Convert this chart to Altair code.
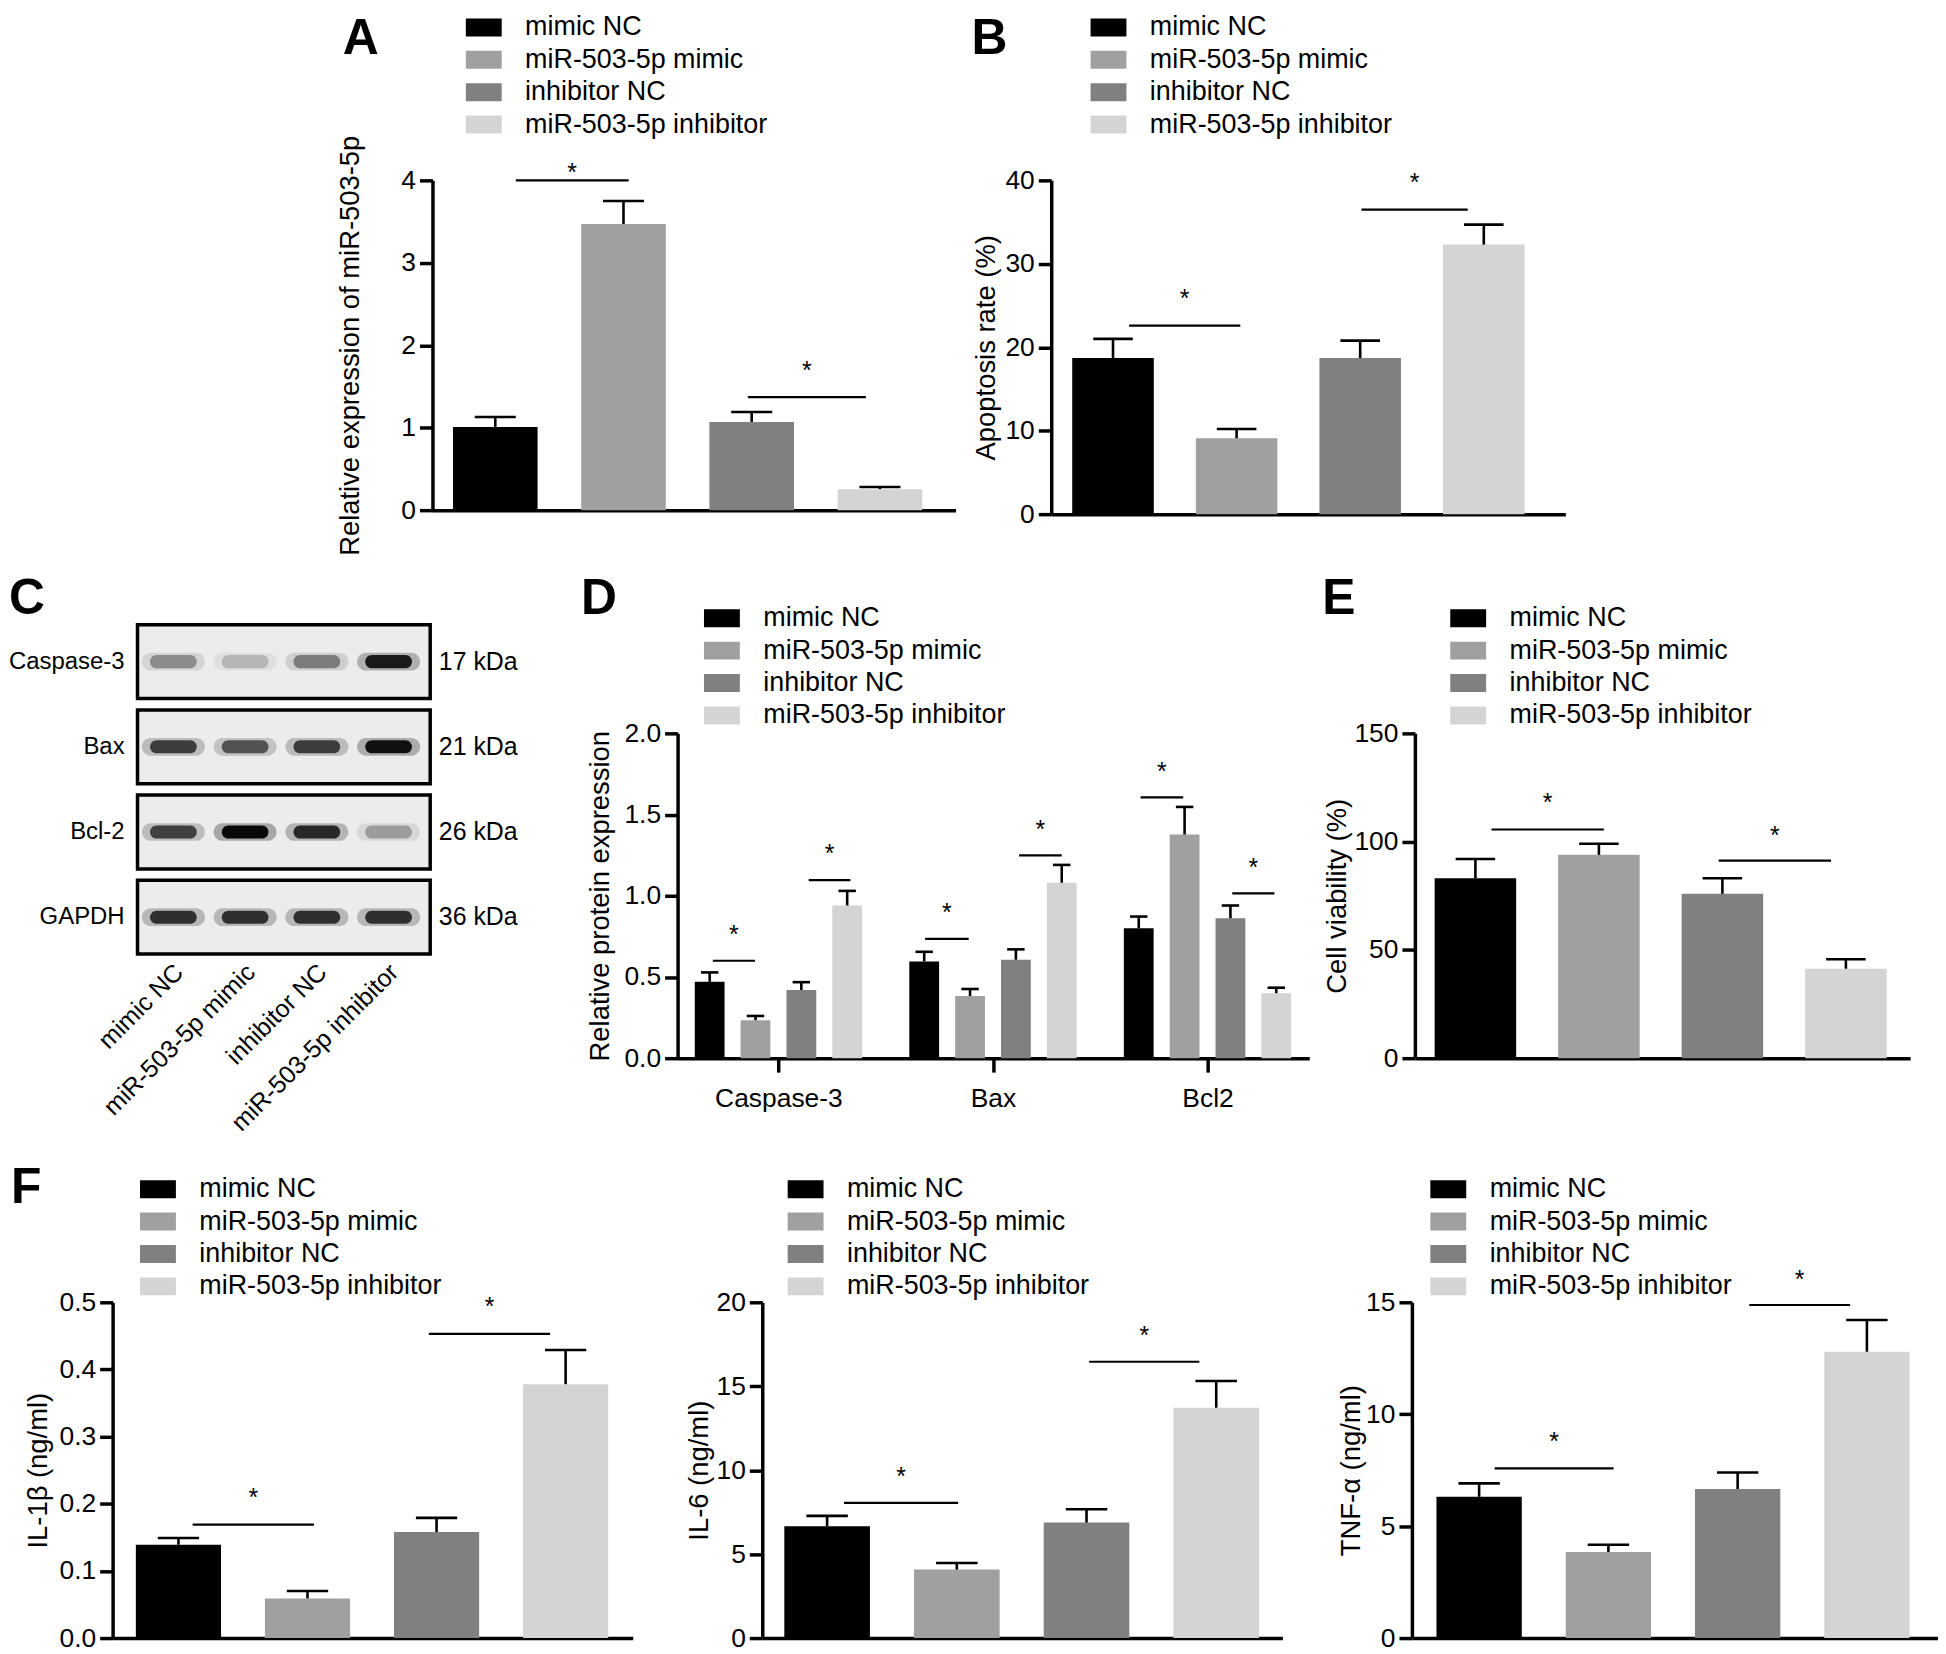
import altair as alt
import pandas as pd

FONT = "Liberation Sans"
GROUPS = ["mimic NC", "miR-503-5p mimic", "inhibitor NC", "miR-503-5p inhibitor"]
COLORS = ["#000000", "#a0a0a0", "#808080", "#d4d4d4"]

# ---------------- Panel A : relative expression of miR-503-5p
A_MEAN = [1.01, 3.47, 1.07, 0.255]
A_TOP = [1.13, 3.75, 1.19, 0.28]
A_SIG_FROM = [0.16, 1.97]
A_SIG_TO = [1.04, 2.89]
A_SIG_Y = [4.0, 1.37]
A_STAR_Y = [4.15, 1.745]
A_TICKS = [0, 1, 2, 3, 4]

# ---------------- Panel B : apoptosis rate
B_MEAN = [18.7, 9.1, 18.7, 32.3]
B_TOP = [21.0, 10.2, 20.8, 34.7]
B_SIG_FROM = [0.13, 2.01]
B_SIG_TO = [1.03, 2.87]
B_SIG_Y = [22.6, 36.5]
B_STAR_Y = [26.4, 40.3]
B_TICKS = [0, 10, 20, 30, 40]

# ---------------- Panel C : western blot
BLOT_PROTEINS = ["Caspase-3", "Bax", "Bcl-2", "GAPDH"]
BLOT_KDA = ["17 kDa", "21 kDa", "26 kDa", "36 kDa"]
BAND_INTENSITY = [
    [0.34, 0.18, 0.40, 0.85],
    [0.68, 0.58, 0.68, 0.90],
    [0.66, 0.95, 0.78, 0.28],
    [0.74, 0.74, 0.74, 0.74],
]

# ---------------- Panel D : relative protein expression
D_PROTEINS = ["Caspase-3", "Bax", "Bcl2"]
D_MEAN = [
    [0.47, 0.234, 0.42, 0.94],
    [0.596, 0.383, 0.606, 1.08],
    [0.80, 1.377, 0.862, 0.40],
]
D_TOP = [
    [0.528, 0.26, 0.468, 1.03],
    [0.655, 0.426, 0.67, 1.19],
    [0.872, 1.547, 0.94, 0.434],
]
D_SIG_FROM = [[0.07, 2.16], [0.02, 2.07], [0.04, 2.04]]
D_SIG_TO = [[0.99, 3.07], [0.97, 3.00], [0.97, 2.96]]
D_SIG_Y = [[0.60, 1.096], [0.734, 1.249], [1.606, 1.015]]
D_STAR_Y = [[0.787, 1.287], [0.926, 1.436], [1.794, 1.202]]
D_TICKS = [0.0, 0.5, 1.0, 1.5, 2.0]
D_GROUP_STEP = 4.68

# ---------------- Panel E : cell viability
E_MEAN = [83.1, 93.9, 75.9, 41.3]
E_TOP = [92.0, 99.0, 83.1, 45.7]
E_SIG_FROM = [0.13, 1.97]
E_SIG_TO = [1.04, 2.88]
E_SIG_Y = [105.6, 91.2]
E_STAR_Y = [120.0, 105.0]
E_TICKS = [0, 50, 100, 150]

# ---------------- Panel F : cytokines
F1_MEAN = [0.139, 0.059, 0.158, 0.378]
F1_TOP = [0.149, 0.070, 0.179, 0.429]
F1_SIG_FROM = [0.11, 1.94]
F1_SIG_TO = [1.05, 2.88]
F1_SIG_Y = [0.169, 0.453]
F1_STAR_Y = [0.216, 0.50]
F1_TICKS = [0.0, 0.1, 0.2, 0.3, 0.4, 0.5]

F2_MEAN = [6.66, 4.08, 6.88, 13.72]
F2_TOP = [7.28, 4.47, 7.67, 15.31]
F2_SIG_FROM = [0.13, 2.02]
F2_SIG_TO = [1.01, 2.87]
F2_SIG_Y = [8.05, 16.46]
F2_STAR_Y = [9.9, 18.3]
F2_TICKS = [0, 5, 10, 15, 20]

F3_MEAN = [6.31, 3.84, 6.66, 12.79]
F3_TOP = [6.91, 4.17, 7.40, 14.21]
F3_SIG_FROM = [0.12, 2.09]
F3_SIG_TO = [1.04, 2.87]
F3_SIG_Y = [7.58, 14.88]
F3_STAR_Y = [8.97, 16.23]
F3_TICKS = [0, 5, 10, 15]

LEGEND_SYMBOL = "M-2,-1H2V1H-2Z"
AXW = 3.5  # axis line width


def letter_layer(letter, x, y):
    return alt.Chart(pd.DataFrame({"t": [letter]})).mark_text(
        font=FONT, fontSize=50, fontWeight="bold", align="left", baseline="top", color="black"
    ).encode(text="t:N", x=alt.value(x), y=alt.value(y))


def bar_panel(pos, groups, means, tops, sig_from, sig_to, sig_y, star_y, xdom, ydom,
              yticks, yfmt, ytitle, title_x, width, height, leg_x, leg_y,
              letter=None, letter_x=0, letter_y=0, hw=0.33, cap=0.16, xaxis=None,
              extra=None):
    df = pd.DataFrame({"pos": pos, "group": groups, "mean": means, "top": tops})
    df["lo"] = df["pos"] - hw
    df["hi"] = df["pos"] + hw
    df["clo"] = df["pos"] - cap
    df["chi"] = df["pos"] + cap
    df["zero"] = 0.0
    sdf = pd.DataFrame({"x1": sig_from, "x2": sig_to, "y": sig_y, "ys": star_y})
    sdf["xm"] = (sdf["x1"] + sdf["x2"]) / 2

    xs = alt.Scale(domain=xdom, nice=False, zero=False)
    ys = alt.Scale(domain=ydom, nice=False, zero=False)
    if xaxis is None:
        xaxis = alt.Axis(labels=False, ticks=False, title=None, grid=False,
                         domainWidth=AXW, domainColor="black")
    yaxis = alt.Axis(values=yticks, format=yfmt, title=ytitle, titleX=title_x,
                     titleY=height / 2, titleAngle=270, titleAlign="center",
                     titleBaseline="middle", grid=False)
    legend = alt.Legend(title=None, orient="none", legendX=leg_x, legendY=leg_y,
                        symbolType=LEGEND_SYMBOL, symbolSize=324, symbolStrokeWidth=0,
                        symbolOpacity=1, labelFontSize=27, labelOffset=28, rowPadding=4.5,
                        padding=0, labelLimit=0, direction="vertical", labelColor="black")

    bars = alt.Chart(df).mark_bar(strokeWidth=0).encode(
        x=alt.X("lo:Q", scale=xs, axis=xaxis), x2="hi",
        y=alt.Y("mean:Q", scale=ys, axis=yaxis), y2="zero",
        color=alt.Color("group:N", scale=alt.Scale(domain=GROUPS, range=COLORS), legend=legend),
    )
    stems = alt.Chart(df).mark_rule(color="black", strokeWidth=2.6).encode(
        x=alt.X("pos:Q", scale=xs),
        y=alt.Y("mean:Q", scale=ys), y2="top",
    )
    caps = alt.Chart(df).mark_rule(color="black", strokeWidth=2.6).encode(
        x=alt.X("clo:Q", scale=xs), x2="chi",
        y=alt.Y("top:Q", scale=ys),
    )
    lines = alt.Chart(sdf).mark_rule(color="black", strokeWidth=2.2).encode(
        x=alt.X("x1:Q", scale=xs), x2="x2",
        y=alt.Y("y:Q", scale=ys),
    )
    stars = alt.Chart(sdf).mark_text(text="*", font=FONT, fontSize=25, baseline="middle",
                                     dy=5, color="black").encode(
        x=alt.X("xm:Q", scale=xs),
        y=alt.Y("ys:Q", scale=ys),
    )
    layers = [bars, stems, caps, lines, stars]
    if letter:
        layers.append(letter_layer(letter, letter_x, letter_y))
    if extra is not None:
        layers.append(extra)
    return alt.layer(*layers).properties(width=width, height=height)


POS4 = [0, 1, 2, 3]

# invisible anchor that fixes the top edge of the whole figure
top_anchor = alt.Chart(pd.DataFrame({"a": [0]})).mark_point(
    opacity=0, size=1).encode(x=alt.value(0), y=alt.value(-169))

panel_a = bar_panel(POS4, GROUPS, A_MEAN, A_TOP, A_SIG_FROM, A_SIG_TO, A_SIG_Y, A_STAR_Y,
                    [-0.49, 3.59], [0, 4], A_TICKS, "d", "Relative expression of miR-503-5p",
                    -82, 525, 331, 38, -167, "A", -90, -167, extra=top_anchor)
panel_b = bar_panel(POS4, GROUPS, B_MEAN, B_TOP, B_SIG_FROM, B_SIG_TO, B_SIG_Y, B_STAR_Y,
                    [-0.5, 3.66], [0, 40], B_TICKS, "d", "Apoptosis rate (%)",
                    -65, 516, 335, 44, -167, "B", -80, -167)

# ---- Panel D (grouped)
d_pos, d_groups, d_mean, d_top = [], [], [], []
d_from, d_to, d_sy, d_st = [], [], [], []
for g in range(len(D_PROTEINS)):
    base = g * D_GROUP_STEP
    for i in range(4):
        d_pos.append(base + i)
        d_groups.append(GROUPS[i])
        d_mean.append(D_MEAN[g][i])
        d_top.append(D_TOP[g][i])
    for k in range(2):
        d_from.append(base + D_SIG_FROM[g][k])
        d_to.append(base + D_SIG_TO[g][k])
        d_sy.append(D_SIG_Y[g][k])
        d_st.append(D_STAR_Y[g][k])
d_centers = [g * D_GROUP_STEP + 1.5 for g in range(len(D_PROTEINS))]
d_label_expr = " : ".join(
    f"datum.value < {c + 1:.2f} ? '{name}'" for c, name in zip(d_centers[:-1], D_PROTEINS[:-1])
) + f" : '{D_PROTEINS[-1]}'"
d_xaxis = alt.Axis(values=d_centers, labelExpr=d_label_expr, title=None, grid=False,
                   ticks=True, tickSize=14, tickWidth=AXW, tickColor="black",
                   domainWidth=AXW, domainColor="black", labelFontSize=26.5, labelPadding=14,
                   labelColor="black")
panel_d = bar_panel(d_pos, d_groups, d_mean, d_top, d_from, d_to, d_sy, d_st,
                    [-0.70, 13.08], [0, 2], D_TICKS, ".1f", "Relative protein expression",
                    -77, 634, 326, 31, -129, "D", -97, -160, hw=0.325, cap=0.19, xaxis=d_xaxis)

panel_e = bar_panel(POS4, GROUPS, E_MEAN, E_TOP, E_SIG_FROM, E_SIG_TO, E_SIG_Y, E_STAR_Y,
                    [-0.49, 3.52], [0, 150], E_TICKS, "d", "Cell viability (%)",
                    -78, 497, 326, 40, -129, "E", -93, -160)

panel_f1 = bar_panel(POS4, GROUPS, F1_MEAN, F1_TOP, F1_SIG_FROM, F1_SIG_TO, F1_SIG_Y, F1_STAR_Y,
                     [-0.51, 3.52], [0, 0.5], F1_TICKS, ".1f", "IL-1β (ng/ml)",
                     -74, 522, 337, 32, -127, "F", -102, -140)
panel_f2 = bar_panel(POS4, GROUPS, F2_MEAN, F2_TOP, F2_SIG_FROM, F2_SIG_TO, F2_SIG_Y, F2_STAR_Y,
                     [-0.50, 3.51], [0, 20], F2_TICKS, "d", "IL-6 (ng/ml)",
                     -63, 522, 337, 30, -127)
panel_f3 = bar_panel(POS4, GROUPS, F3_MEAN, F3_TOP, F3_SIG_FROM, F3_SIG_TO, F3_SIG_Y, F3_STAR_Y,
                     [-0.52, 3.55], [0, 15], F3_TICKS, "d", "TNF-α (ng/ml)",
                     -61, 528, 337, 23, -127)

# ---- Panel C (blot)
band_rows = []
for r in range(len(BLOT_PROTEINS)):
    for l in range(4):
        band_rows.append({"row": r, "lane": l, "intensity": BAND_INTENSITY[r][l]})
band_df = pd.DataFrame(band_rows)
box_df = pd.DataFrame({"row": list(range(len(BLOT_PROTEINS))), "protein": BLOT_PROTEINS,
                       "kda": BLOT_KDA})
box_df["y1"] = box_df["row"] - 0.433
box_df["y2"] = box_df["row"] + 0.433
box_df["x1"] = -0.5
box_df["x2"] = 3.58
box_df["xl"] = -0.68
box_df["xr"] = 3.7
lane_df = pd.DataFrame({"lane": POS4, "name": GROUPS})
lane_df["xe"] = lane_df["lane"] + 0.08
lane_df["ye"] = 3.6

cx = alt.Scale(domain=[-0.847, 5.556], nice=False, zero=False)
cy = alt.Scale(domain=[0.842, 4.655], nice=False, zero=False, reverse=True)
BAND_PATH = "M-0.72,-0.28L0.72,-0.28A0.28,0.28,0,0,1,0.72,0.28L-0.72,0.28A0.28,0.28,0,0,1,-0.72,-0.28Z"

boxes = alt.Chart(box_df).mark_rect(fill="#ececec", stroke="black", strokeWidth=3.5).encode(
    x=alt.X("x1:Q", scale=cx, axis=None), x2="x2",
    y=alt.Y("y1:Q", scale=cy, axis=None), y2="y2",
)
halo = alt.Chart(band_df).transform_calculate(op="datum.intensity * 0.3").mark_point(
    shape=BAND_PATH, filled=True, color="black", size=4000, strokeWidth=0
).encode(
    x=alt.X("lane:Q", scale=cx, axis=None), y=alt.Y("row:Q", scale=cy, axis=None),
    opacity=alt.Opacity("op:Q", scale=None, legend=None),
)
core = alt.Chart(band_df).mark_point(
    shape=BAND_PATH, filled=True, color="black", size=2200, strokeWidth=0
).encode(
    x=alt.X("lane:Q", scale=cx, axis=None), y=alt.Y("row:Q", scale=cy, axis=None),
    opacity=alt.Opacity("intensity:Q", scale=None, legend=None),
)
left_lab = alt.Chart(box_df).mark_text(font=FONT, fontSize=24, align="right", baseline="middle",
                                        color="black").encode(
    x=alt.X("xl:Q", scale=cx, axis=None), y=alt.Y("row:Q", scale=cy, axis=None), text="protein:N")
right_lab = alt.Chart(box_df).mark_text(font=FONT, fontSize=25, align="left", baseline="middle",
                                         color="black").encode(
    x=alt.X("xr:Q", scale=cx, axis=None), y=alt.Y("row:Q", scale=cy, axis=None), text="kda:N")
lane_lab = alt.Chart(lane_df).mark_text(font=FONT, fontSize=25, align="right", baseline="middle",
                                         angle=315, color="black").encode(
    x=alt.X("xe:Q", scale=cx, axis=None), y=alt.Y("ye:Q", scale=cy, axis=None), text="name:N")
panel_c = alt.layer(boxes, halo, core, left_lab, right_lab, lane_lab,
                    letter_layer("C", -104, -160)).properties(width=461, height=326)

spacer = alt.Chart(pd.DataFrame({"s": [0]})).mark_point(opacity=0).encode(
    x=alt.value(0), y=alt.value(0)).properties(width=225, height=1)


def ind(c):
    return c.resolve_scale(color="independent", opacity="independent").resolve_legend(
        color="independent")


# with flush bounds the nested rows count as zero height, so the spacing holds row height + gap
row1 = ind(alt.hconcat(spacer, panel_a, panel_b, spacing=96, bounds="flush"))
row2 = ind(alt.hconcat(panel_c, panel_d, panel_e, spacing=106, bounds="flush"))
row3 = ind(alt.hconcat(panel_f1, panel_f2, panel_f3, spacing=130, bounds="flush"))
lower = ind(alt.vconcat(row2, row3, spacing=326 + 245, bounds="flush"))
chart = ind(alt.vconcat(row1, lower, spacing=335 + 220, bounds="flush"))

chart = chart.properties(padding=0).configure_view(stroke=None).configure_axis(
    labelFont=FONT, titleFont=FONT, labelFontSize=26.5, titleFontSize=27.5,
    titleFontWeight="normal", labelColor="black", titleColor="black", domainColor="black",
    domainWidth=AXW, tickColor="black", tickWidth=AXW, tickSize=13, labelPadding=4, grid=False,
).configure_legend(labelFont=FONT).configure_text(font=FONT)

chart.save("out.html", embed_options={"renderer": "svg", "actions": False})
